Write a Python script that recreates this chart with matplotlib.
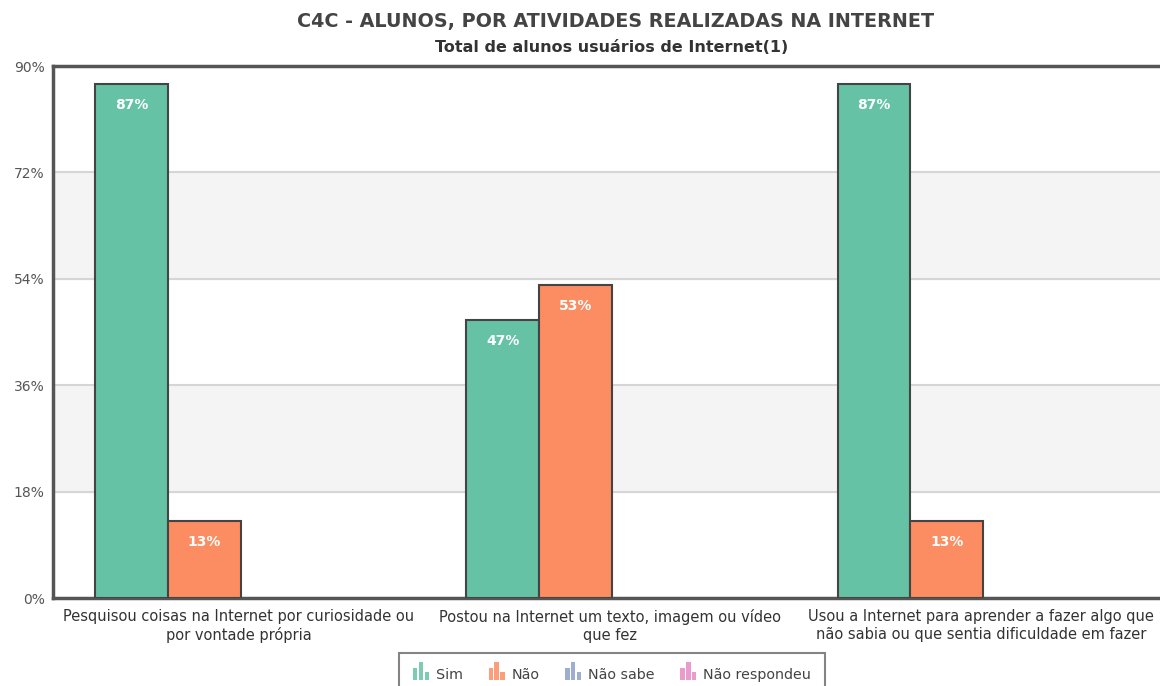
import numpy as np
import matplotlib.pyplot as plt
from matplotlib.legend_handler import HandlerBase
from matplotlib.patches import Rectangle, Patch

categories = ["Pesquisou coisas na Internet por curiosidade ou\npor vontade própria",
              "Postou na Internet um texto, imagem ou vídeo\nque fez",
              "Usou a Internet para aprender a fazer algo que\nnão sabia ou que sentia dificuldade em fazer"]
series = ["Sim", "Não", "Não sabe", "Não respondeu"]
sim = [87, 47, 87]
nao = [13, 53, 13]
nao_sabe = [0, 0, 0]
nao_resp = [0, 0, 0]
values = [sim, nao, nao_sabe, nao_resp]
colors = ["#66c2a5", "#fc8d62", "#8da0cb", "#e78ac3"]
yticks = [0, 18, 36, 54, 72, 90]

fig = plt.figure(figsize=(11.6, 6.86), dpi=100)
ax = fig.add_axes([53/1160, 88/686, 1114/1160, 532/686])

x = np.arange(len(categories))
w = 0.196
for i, (name, vals, c) in enumerate(zip(series, values, colors)):
    pos = x + (i - 1.5) * w + 0.005
    for p, v in zip(pos, vals):
        if v <= 0:
            continue
        ax.bar(p, v, w, color=c, edgecolor="#444444", linewidth=1.5, zorder=3)
        ax.annotate(f"{v}%", (p, v), xytext=(0, -10), textcoords="offset points",
                    ha="center", va="top", color="white", fontweight="bold",
                    fontsize=10, zorder=4)

ax.set_xlim(-0.5, 2.5)
ax.set_ylim(0, 90)
for lo, hi in [(18, 36), (54, 72)]:
    ax.axhspan(lo, hi, color="#f4f4f4", zorder=0)
for t in yticks[1:-1]:
    ax.axhline(t, color="#d6d6d6", linewidth=1.5, zorder=1)

ax.set_yticks(yticks)
ax.set_yticklabels([f"{t}%" for t in yticks])
ax.set_xticks(x)
ax.set_xticklabels(categories)
ax.tick_params(axis="y", length=0, pad=6, labelsize=10, labelcolor="#555555")
ax.tick_params(axis="x", length=0, pad=8, labelsize=10.5, labelcolor="#333333")
for s in ["left", "top", "bottom"]:
    ax.spines[s].set_color("#555555")
    ax.spines[s].set_linewidth(2.5)
ax.spines["right"].set_visible(False)

fig.text(616/1160, 1 - 22/686, "C4C - ALUNOS, POR ATIVIDADES REALIZADAS NA INTERNET",
         ha="center", va="center", fontsize=13.8, fontweight="bold", color="#444444")
fig.text(612/1160, 1 - 47/686, "Total de alunos usuários de Internet(1)",
         ha="center", va="center", fontsize=11.5, fontweight="bold", color="#333333")


class BarsIcon(HandlerBase):
    def create_artists(self, legend, orig, xd, yd, width, height, fontsize, trans):
        c = orig.get_facecolor()
        bw = width / 3.6
        hs = [0.65, 1.0, 0.4]
        arts = []
        for k, h in enumerate(hs):
            r = Rectangle((xd + k * bw * 1.35, yd - height * 0.2), bw, height * h * 1.4,
                          facecolor=c, edgecolor="none", alpha=0.85, transform=trans)
            arts.append(r)
        return arts


handles = [Patch(facecolor=c) for c in colors]
leg = fig.legend(handles, series, loc="upper center", ncol=4,
                 bbox_to_anchor=(612/1160, 1 - 653/686), frameon=True,
                 fancybox=False, edgecolor="#666666", fontsize=10.3,
                 handler_map={Patch: BarsIcon()}, handlelength=1.1, handleheight=1.0,
                 handletextpad=0.5, columnspacing=1.8, borderpad=1.0,
                 borderaxespad=0)
leg.get_frame().set_linewidth(1.5)
for t in leg.get_texts():
    t.set_color("#444444")

fig.savefig("out.png", dpi=100)
